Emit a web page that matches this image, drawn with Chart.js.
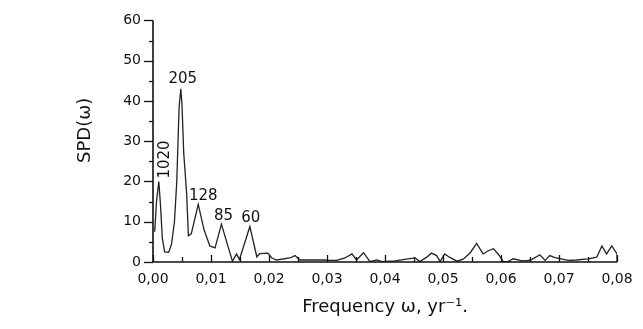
<!DOCTYPE html>
<html>
<head>
<meta charset="utf-8">
<script src="https://cdn.jsdelivr.net/npm/chart.js@4.4.1/dist/chart.umd.min.js"></script>
<style>
  html, body { margin: 0; padding: 0; background: #ffffff; }
  #wrap { width: 643px; height: 329px; position: relative; }
</style>
</head>
<body>
<div id="wrap"><canvas id="c" width="643" height="329"></canvas></div>
<script>
// ---- data ----
const freq = [0.0003,0.0006,0.0010,0.0013,0.0016,0.0020,0.0027,0.0032,0.0037,0.0041,0.0045,0.0048,0.0050,0.0053,0.0058,0.0061,0.0066,0.0078,0.0088,0.0098,0.0107,0.0118,0.0128,0.0137,0.0144,0.0149,0.0152,0.0167,0.0179,0.0184,0.0198,0.0205,0.0213,0.0236,0.0245,0.0253,0.0270,0.0294,0.0305,0.0317,0.0331,0.0343,0.0351,0.0363,0.0374,0.0386,0.0395,0.0417,0.0437,0.0452,0.0460,0.0472,0.0480,0.0489,0.0495,0.0503,0.0511,0.0524,0.0535,0.0547,0.0558,0.0569,0.0578,0.0587,0.0595,0.0604,0.0612,0.0621,0.0633,0.0643,0.0653,0.0667,0.0676,0.0684,0.0693,0.0716,0.0730,0.0750,0.0765,0.0774,0.0782,0.0791,0.0800,0.0800];
const spd  = [7.5,15,20,14,6,2.5,2.4,4.5,10,20,38.5,43,39,27,17,6.5,7,14.3,8,4,3.5,9.4,4.5,0.2,2,0.6,2,8.8,1.3,2.1,2.2,1,0.5,1,1.6,0.5,0.5,0.5,0.4,0.4,1.0,2,0.5,2.3,0.1,0.5,0.1,0.3,0.7,1,0.1,1.2,2.2,1.6,0.1,2,1.2,0.2,0.7,2.3,4.6,2.0,2.8,3.3,2,0.1,0.1,0.8,0.4,0.3,0.6,1.8,0.4,1.6,1.1,0.4,0.5,0.8,1.2,4,2,4,2,0];

const peakLabels = ['1020','205','128','85','60'];
const peakFreq   = [0.0010,0.0048,0.0078,0.0118,0.0167];
const peakVal    = [20,43,14.3,9.4,8.8];

const xTicksMajor = [0,0.01,0.02,0.03,0.04,0.05,0.06,0.07,0.08];
const yTicksMajor = [0,10,20,30,40,50,60];

const yTitle = 'SPD(ω)';
const xTitle = 'Frequency ω, yr⁻¹.';

const points = freq.map((f, i) => ({x: f, y: spd[i]}));

// label offsets (px) relative to the peak point, and rotation
const labelStyle = [
  {dx: 6,  dy: -22, rot: -Math.PI/2},
  {dx: 2,  dy: -10, rot: 0},
  {dx: 5,  dy: -8,  rot: 0},
  {dx: 2,  dy: -8,  rot: 0},
  {dx: 1,  dy: -8,  rot: 0}
];

const INK = '#111111';

const axesPlugin = {
  id: 'axesPlugin',
  afterDraw(chart) {
    const ctx = chart.ctx;
    const xs = chart.scales.x, ys = chart.scales.y;
    const L = xs.getPixelForValue(0), R = xs.getPixelForValue(0.08);
    const B = ys.getPixelForValue(0), T = ys.getPixelForValue(60);
    ctx.save();
    ctx.strokeStyle = INK;
    ctx.lineWidth = 1.6;
    ctx.beginPath();
    ctx.moveTo(L, T); ctx.lineTo(L, B); ctx.lineTo(R, B);
    ctx.stroke();
    ctx.lineWidth = 1.3;
    // y ticks (outward)
    for (let v = 0; v <= 60; v += 5) {
      const y = Math.round(ys.getPixelForValue(v)) + 0.5;
      const len = (v % 10 === 0) ? 9 : 4;
      ctx.beginPath(); ctx.moveTo(L - len, y); ctx.lineTo(L, y); ctx.stroke();
    }
    // x ticks (inward)
    for (let k = 0; k <= 16; k++) {
      const v = k * 0.005;
      const x = Math.round(xs.getPixelForValue(v)) + 0.5;
      const len = (k % 2 === 0) ? 7 : 5;
      ctx.beginPath(); ctx.moveTo(x, B); ctx.lineTo(x, B - len); ctx.stroke();
    }
    // peak labels
    ctx.fillStyle = INK;
    ctx.font = '15px "DejaVu Sans", sans-serif';
    ctx.textAlign = 'center';
    ctx.textBaseline = 'middle';
    peakLabels.forEach((t, i) => {
      const px = xs.getPixelForValue(peakFreq[i]) + labelStyle[i].dx;
      const py = ys.getPixelForValue(peakVal[i]) + labelStyle[i].dy;
      ctx.save();
      ctx.translate(px, py);
      ctx.rotate(labelStyle[i].rot);
      ctx.fillText(t, 0, 0);
      ctx.restore();
    });
    // y axis title
    ctx.font = '18px "DejaVu Sans", sans-serif';
    ctx.save();
    ctx.translate(L - 68, ys.getPixelForValue(32.7));
    ctx.rotate(-Math.PI / 2);
    ctx.fillText(yTitle, 0, 0);
    ctx.restore();
    ctx.restore();
  }
};

new Chart(document.getElementById('c'), {
  type: 'line',
  data: {
    datasets: [{
      data: points,
      borderColor: '#222222',
      borderWidth: 1.3,
      pointRadius: 0,
      tension: 0,
      fill: false
    }]
  },
  options: {
    responsive: false,
    animation: false,
    devicePixelRatio: 1,
    layout: { padding: { top: 16, right: 26, left: 0, bottom: 0 } },
    plugins: { legend: { display: false }, tooltip: { enabled: false } },
    scales: {
      x: {
        type: 'linear',
        min: 0, max: 0.08,
        afterFit(s) { s.height = 67; },
        afterBuildTicks(s) { s.ticks = xTicksMajor.map(v => ({value: v})); },
        grid: { display: false, drawTicks: false },
        border: { display: false },
        ticks: {
          padding: 9,
          color: INK,
          font: { family: '"DejaVu Sans", sans-serif', size: 14 },
          maxRotation: 0,
          callback: v => Number(v).toFixed(2).replace('.', ',')
        },
        title: {
          display: true,
          text: xTitle,
          color: INK,
          font: { family: '"DejaVu Sans", sans-serif', size: 18 },
          padding: { top: 0, bottom: 11 }
        }
      },
      y: {
        min: 0, max: 60,
        afterFit(s) { s.width = 153; },
        afterBuildTicks(s) { s.ticks = yTicksMajor.map(v => ({value: v})); },
        grid: { display: false, drawTicks: false },
        border: { display: false },
        ticks: {
          padding: 12,
          color: INK,
          font: { family: '"DejaVu Sans", sans-serif', size: 14 }
        },
        title: { display: false }
      }
    }
  },
  plugins: [axesPlugin]
});
</script>
</body>
</html>
